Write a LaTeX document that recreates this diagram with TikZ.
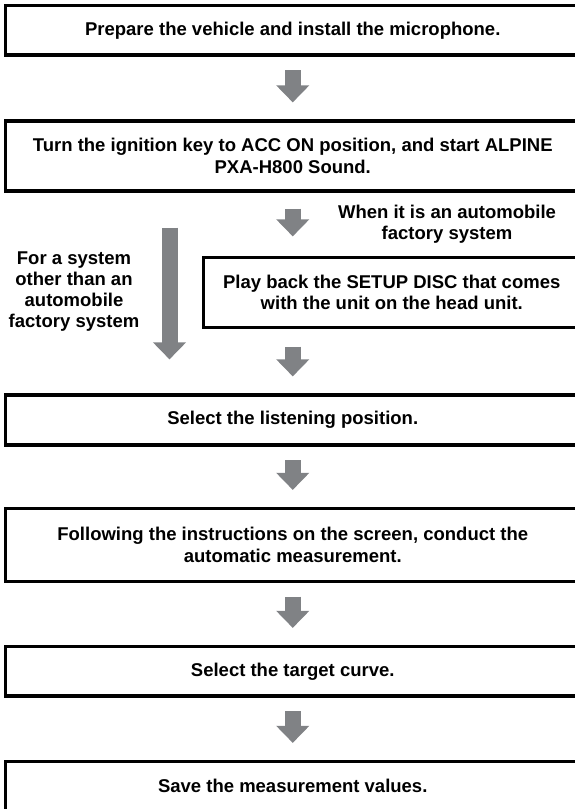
\documentclass[tikz,border=0pt]{standalone}
\usepackage{fontspec}
\setmainfont{Liberation Sans}
\usetikzlibrary{arrows.meta}
\definecolor{arrowgray}{RGB}{128,130,133}
\tikzset{
  stepbox/.style={draw=black, line width=3.2pt, rectangle, inner sep=0pt, align=center,
    font=\fontsize{18.5}{21.5}\selectfont\bfseries},
  lbl/.style={align=center, inner sep=0pt, font=\fontsize{18.5}{21}\selectfont\bfseries},
  bigarrow/.style={draw=arrowgray, line width=16pt,
    -{Triangle[width=32pt,length=17pt]}},
}
\begin{document}
\begin{tikzpicture}[x=1pt,y=-1pt]
\useasboundingbox (0,0) rectangle (575,809);
\clip (0,0) rectangle (575,809);
\node[stepbox, minimum width=574.5pt, minimum height=49.5pt] (b1) at (292.75,30.25)
  {Prepare the vehicle and install the microphone.};
\node[stepbox, minimum width=574.5pt, minimum height=70pt] (b2) at (292.75,156)
  {Turn the ignition key to ACC ON position, and start ALPINE\\PXA-H800 Sound.};
\node[stepbox, minimum width=376.5pt, minimum height=70pt] (b3) at (391.75,292.5)
  {Play back the SETUP DISC that comes\\with the unit on the head unit.};
\node[stepbox, minimum width=574.5pt, minimum height=50pt] (b4) at (292.75,420)
  {Select the listening position.};
\node[stepbox, minimum width=574.5pt, minimum height=73pt] (b5) at (292.75,545)
  {Following the instructions on the screen, conduct the\\automatic measurement.};
\node[stepbox, minimum width=574.5pt, minimum height=49.5pt] (b6) at (292.75,671.25)
  {Select the target curve.};
\node[stepbox, minimum width=574.5pt, minimum height=49.5pt] (b7) at (292.75,786.25)
  {Save the measurement values.};
\node[lbl] (l1) at (447,224) {When it is an automobile\\factory system};
\node[lbl] (l2) at (74,292) {For a system\\other than an\\automobile\\factory system};
\coordinate (lx) at (169.5,0);
\draw[bigarrow, shorten <=13.5pt, shorten >=17pt] (b1.south) -- (b2.north);
\draw[bigarrow, shorten <=16pt, shorten >=19.5pt] (b2.south) -- (b2.south |- b3.north);
\draw[bigarrow, shorten <=17.5pt, shorten >=17pt] (b3.south -| b4.north) -- (b4.north);
\draw[bigarrow, shorten <=35pt, shorten >=34pt] (b2.south -| lx) -- (b4.north -| lx);
\draw[bigarrow, shorten <=13.5pt, shorten >=17pt] (b4.south) -- (b5.north);
\draw[bigarrow, shorten <=13.5pt, shorten >=17pt] (b5.south) -- (b6.north);
\draw[bigarrow, shorten <=13.5pt, shorten >=17pt] (b6.south) -- (b7.north);
\end{tikzpicture}
\end{document}
